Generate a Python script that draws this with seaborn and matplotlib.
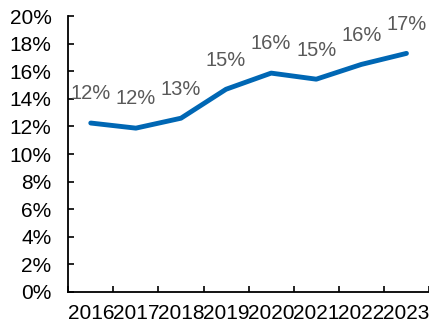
import matplotlib
matplotlib.use("Agg")
import matplotlib.pyplot as plt
from matplotlib.ticker import FixedLocator, FuncFormatter
import numpy as np
import pandas as pd
import seaborn as sns

years = ["2016", "2017", "2018", "2019", "2020", "2021", "2022", "2023"]
share = [12.25, 11.88, 12.6, 14.7, 15.87, 15.43, 16.5, 17.3]
labels = ["12%", "12%", "13%", "15%", "16%", "15%", "16%", "17%"]
y_ticks = [0, 2, 4, 6, 8, 10, 12, 14, 16, 18, 20]

sns.set_theme(style="white")
plt.rcParams["font.family"] = ["Liberation Sans", "DejaVu Sans"]

df = pd.DataFrame({"year": years, "share": share})

fig = plt.figure(figsize=(4.29, 3.23), dpi=100)
ax = fig.add_axes([0.159, 0.096, 0.841, 0.854])

sns.lineplot(data=df, x="year", y="share", ax=ax, color="#0067B4",
             linewidth=3.5, sort=False)

for i, (v, t) in enumerate(zip(share, labels)):
    ax.annotate(t, (i, v), xytext=(0, 21), textcoords="offset points",
                ha="center", va="center", fontsize=14.5, color="#595959")

ax.set_xlim(-0.5, len(years) - 0.5)
ax.set_ylim(0, 20)
ax.set_yticks(y_ticks)
ax.yaxis.set_major_formatter(FuncFormatter(lambda v, p: f"{v:.0f}%"))

# tick marks sit on category boundaries, labels sit at category centres
ax.xaxis.set_major_locator(FixedLocator(np.arange(-0.5, len(years), 1.0)))
ax.xaxis.set_major_formatter(FuncFormatter(lambda v, p: ""))
ax.xaxis.set_minor_locator(FixedLocator(np.arange(len(years))))
ax.set_xticklabels(years, minor=True)
ax.tick_params(axis="x", which="minor", bottom=True, length=0, labelsize=15,
               pad=9, colors="black")
ax.tick_params(axis="x", which="major", bottom=True, direction="in",
               length=4, width=1.2, color="black")
ax.tick_params(axis="y", left=True, direction="in", length=4, width=1.2,
               color="black", labelsize=15, pad=12, labelcolor="black")

ax.set_xlabel("")
ax.set_ylabel("")
for side in ["top", "right"]:
    ax.spines[side].set_visible(False)
for side in ["left", "bottom"]:
    ax.spines[side].set_color("black")
    ax.spines[side].set_linewidth(1.3)

fig.savefig("out.png", dpi=100)
